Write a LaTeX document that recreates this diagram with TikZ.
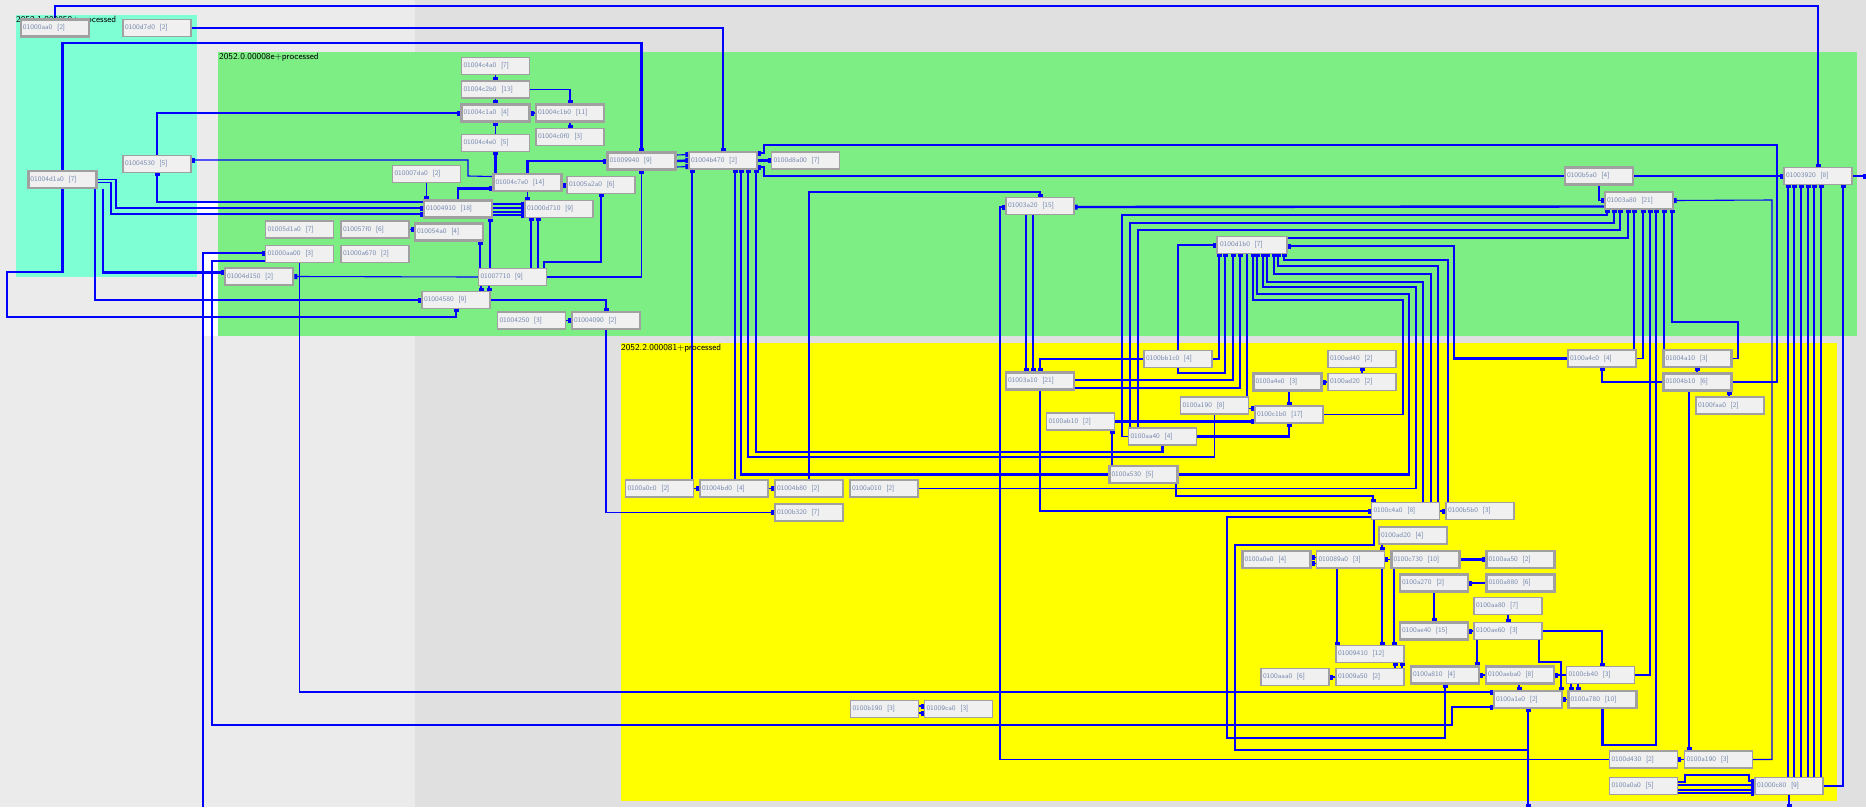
\documentclass[tikz,border=0pt]{standalone}
\usetikzlibrary{arrows.meta}
\definecolor{bgl}{RGB}{235,235,235}
\definecolor{bgd}{RGB}{224,224,224}
\definecolor{cyancl}{RGB}{127,255,212}
\definecolor{greencl}{RGB}{124,238,132}
\definecolor{yellowcl}{RGB}{255,255,0}
\definecolor{edgeb}{RGB}{0,0,255}
\definecolor{nfill}{RGB}{240,240,240}
\definecolor{nbord}{RGB}{160,160,160}
\definecolor{ntext}{RGB}{120,138,176}
\pgfdeclarelayer{bg}
\pgfdeclarelayer{edges}
\pgfsetlayers{bg,edges,main}
\tikzset{
  nb/.style={draw=nbord, fill=nfill, line width=1.3, minimum width=68, minimum height=17,
    inner sep=0pt, text width=64, align=left, font=\fontsize{7}{8}\selectfont\sffamily, text=ntext},
  nbk/.style={nb, line width=2.6},
  cl/.style={anchor=north west, inner sep=0pt, font=\fontsize{9}{10}\selectfont\sffamily},
  ln/.style={draw=edgeb, line width=1.1, -{Square[length=3pt 0,width=5pt 0]}},
  lk/.style={ln, line width=2.4},
}
\begin{document}
\begin{tikzpicture}[x=1pt,y=-1pt]
      \useasboundingbox (0,0) rectangle (1866,807);
      \begin{pgfonlayer}{bg}
      \fill[bgl] (0,0) rectangle (1866,807);
      \fill[bgd] (415,0) rectangle (1866,807);
      % clusters
      \fill[cyancl] (16,15) rectangle (197,277);
      \fill[greencl] (218,52) rectangle (1857,336);
      \fill[yellowcl] (621,343) rectangle (1837,801);
      \fill[white] (197,202) rectangle (218,215);
      \fill[white] (203,253) rectangle (218,336);
      \end{pgfonlayer}
      \node[cl] (lcyan) at (16,16) {2052.1.000050+processed};
      \node[cl] (lgreen) at (219,53) {2052.0.00008e+processed};
      \node[cl] (lyellow) at (621,344) {2052.2.000081+processed};
      % free ends
      \coordinate (offr) at (1866,176);
      \coordinate (offa) at (203,807);
      \coordinate (offb1) at (1789,807);
      \coordinate (offb2) at (1528,807);
      % cyan cluster
      \node[nbk] (n0aa0) at (55,28) {01000aa0\ \ [2]};
      \node[nb] (nd7d0) at (157,28) {0100d7d0\ \ [2]};
      \node[nbk] (nd1a0) at (62.5,179.5) {01004d1a0\ \ [7]};
      \node[nb] (n4530) at (157,164) {01004530\ \ [5]};
      % green cluster
      \node[nb] (n4c4a0) at (495.5,66) {01004c4a0\ \ [7]};
      \node[nb] (n4c2b0) at (495.5,89.5) {01004c2b0\ \ [13]};
      \node[nbk] (n4c1a0) at (495.5,113) {01004c1a0\ \ [4]};
      \node[nbk] (n4c1b0) at (570,113) {01004c1b0\ \ [11]};
      \node[nb] (n4c0f0) at (570,137) {01004c0f0\ \ [3]};
      \node[nb] (n4c4e0) at (495.5,143) {01004c4e0\ \ [5]};
      \node[nbk] (n9940) at (641.5,161) {01009940\ \ [9]};
      \node[nb] (n4b470) at (723,160.5) {01004b470\ \ [2]};
      \node[nb] (nd8a00) at (805.5,160.5) {0100d8a00\ \ [7]};
      \node[nb] (n07da0) at (426.5,174) {010007da0\ \ [2]};
      \node[nbk] (n4c7e0) at (527.5,182.5) {01004c7e0\ \ [14]};
      \node[nb] (n5a2a0) at (601,185) {01005a2a0\ \ [6]};
      \node[nbk] (n4910) at (458,209) {01004910\ \ [18]};
      \node[nb] (n0d710) at (559,209) {01000d710\ \ [9]};
      \node[nbk] (n54a0) at (449,232) {010054a0\ \ [4]};
      \node[nb] (n5d1a0) at (299.5,229.5) {01005d1a0\ \ [7]};
      \node[nb] (n57f0) at (375,229.5) {010057f0\ \ [6]};
      \node[nb] (naa00) at (299.5,254) {01000aa00\ \ [3]};
      \node[nb] (na670) at (375,254) {01000a670\ \ [2]};
      \node[nbk] (n4d150) at (259,276.5) {01004d150\ \ [2]};
      \node[nb] (n7710) at (512.5,277) {01007710\ \ [9]};
      \node[nb] (n4580) at (456,300) {01004580\ \ [9]};
      \node[nb] (n4250) at (531.5,320.5) {01004250\ \ [3]};
      \node[nbk] (n4090) at (606,320.5) {01004090\ \ [2]};
      \node[nb] (n3a20) at (1040,206) {01003a20\ \ [15]};
      \node[nb, minimum width=70] (nd1b0) at (1252,245) {0100d1b0\ \ [7]};
      \node[nbk] (nb5a0) at (1599,176) {0100b5a0\ \ [4]};
      \node[nb] (n3a80) at (1639,200.5) {01003a80\ \ [21]};
      \node[nb] (n3920) at (1818,176) {01003920\ \ [8]};
      % yellow cluster
      \node[nb] (na4c0) at (1602,358.5) {0100a4c0\ \ [4]};
      \node[nbk] (n4a10) at (1697.5,358.5) {01004a10\ \ [3]};
      \node[nbk] (n4b10) at (1697.5,382) {01004b10\ \ [6]};
      \node[nb] (nfaa0) at (1730,405.5) {0100faa0\ \ [2]};
      \node[nb] (nbb1c0) at (1178,359) {0100bb1c0\ \ [4]};
      \node[nbk] (n3a10) at (1040,381) {01003a10\ \ [21]};
      \node[nb] (nad40) at (1362,359) {0100ad40\ \ [2]};
      \node[nbk] (na4e0) at (1287.5,382) {0100a4e0\ \ [3]};
      \node[nb] (nad20) at (1362,382) {0100ad20\ \ [2]};
      \node[nb] (na190) at (1214.5,405.5) {0100a190\ \ [8]};
      \node[nb] (nc1b0) at (1289,414.5) {0100c1b0\ \ [17]};
      \node[nb] (nab10) at (1080.5,421.5) {0100ab10\ \ [2]};
      \node[nb] (naa40) at (1162.5,436.5) {0100aa40\ \ [4]};
      \node[nbk] (na530) at (1143.5,474.5) {0100a530\ \ [5]};
      \node[nb] (na0c0) at (659.5,488.5) {0100a0c0\ \ [2]};
      \node[nb] (n4bd0) at (734,488.5) {01004bd0\ \ [4]};
      \node[nb] (n4b80) at (809,488.5) {01004b80\ \ [2]};
      \node[nb] (na010) at (884,488.5) {0100a010\ \ [2]};
      \node[nb] (nb320) at (809,512.5) {0100b320\ \ [7]};
      \node[nb] (nc4a0) at (1405.5,511) {0100c4a0\ \ [8]};
      \node[nb] (nb5b0) at (1480,511) {0100b5b0\ \ [3]};
      \node[nb] (nad20b) at (1413,535.5) {0100ad20\ \ [4]};
      \node[nbk] (na0e0) at (1276.5,559.5) {0100a0e0\ \ [4]};
      \node[nb] (n89a0) at (1350.5,559.5) {010089a0\ \ [3]};
      \node[nbk] (nc730) at (1425.5,559.5) {0100c730\ \ [10]};
      \node[nbk] (naa50) at (1520.5,559.5) {0100aa50\ \ [2]};
      \node[nbk] (na270) at (1434,583) {0100a270\ \ [2]};
      \node[nbk] (na880) at (1520.5,583) {0100a880\ \ [6]};
      \node[nb] (naa80) at (1508,606) {0100aa80\ \ [7]};
      \node[nbk] (nae40) at (1434,631) {0100ae40\ \ [15]};
      \node[nb] (nae60) at (1508,631) {0100ae60\ \ [3]};
      \node[nb] (n9410) at (1370,654) {01009410\ \ [12]};
      \node[nb] (n9a50) at (1370,677) {01009a50\ \ [2]};
      \node[nb] (naaa0) at (1295,677) {0100aaa0\ \ [6]};
      \node[nbk] (na810) at (1445,675) {0100a810\ \ [4]};
      \node[nbk] (naeba0) at (1520,675) {0100aeba0\ \ [8]};
      \node[nb] (ncb40) at (1600.5,675) {0100cb40\ \ [3]};
      \node[nbk] (n1e0) at (1528,699.5) {0100a1e0\ \ [2]};
      \node[nbk] (na780) at (1602.5,699.5) {0100a780\ \ [10]};
      \node[nb] (nb190) at (884.5,709) {0100b190\ \ [3]};
      \node[nb] (n9ca0) at (958.5,709) {01009ca0\ \ [3]};
      \node[nb] (nd430) at (1643.5,759.5) {0100d430\ \ [2]};
      \node[nb] (na190b) at (1718.5,759.5) {0100a190\ \ [3]};
      \node[nb] (na0a0) at (1643.5,786) {0100a0a0\ \ [5]};
      \node[nb] (n0c80) at (1789,786) {01000c80\ \ [9]};
      \begin{pgfonlayer}{edges}
      % long lines across the top
      \draw[lk] (n0aa0.north) -- ++(0,-12) -| (n3920.north);
      \draw[lk] (nd7d0.east) -| (n4b470.north);
      \draw[lk] (nd1a0.north) -- ++(0,-127) -| (n9940.north);
      \draw[lk] (nd1a0.south) -- (62.5,272) -- (7,272) -- (7,317) -| (n4580.south);
      \draw[ln] (n4090.south) |- (nb320.west);
      \draw[lk] (103,0 |- nd1a0.south) |- ([yshift=4]n4d150.west);
      \draw[lk] (95,0 |- nd1a0.south) |- (n4580.west);
      \draw[lk] (n4530.north) |- (n4c1a0.west);
      \draw[ln] ([yshift=7]n4910.west) -| (n4530.south);
      \draw[ln] ([yshift=6]n4c7e0.west) -- (468,176) -- (468,160) -- ([yshift=4]n4530.east);
      \draw[ln] (nd1a0.east) -| (116,208) -- ([yshift=1]n4910.west);
      \draw[ln] ([yshift=-3]nd1a0.east) -| (111,214) -- ([yshift=-5]n4910.west);
      % green cluster, left part
      \draw[ln] (n07da0.south) -- (n07da0.south |- n4910.north);
      \draw[lk] (n4910.north) |- ([yshift=-6]n4c7e0.west);
      \draw[ln] (n4c4a0.south) -- (n4c2b0.north);
      \draw[ln] (n4c2b0.south) -- (n4c1a0.north);
      \draw[ln] (n4c2b0.east) -| (n4c1b0.north);
      \draw[ln] (n4c1b0.west) -- (n4c1a0.east);
      \draw[ln] (n4c1b0.south) -- (n4c0f0.north);
      \draw[ln] (n4c4e0.north) -- (n4c1a0.south);
      \draw[lk] (495.5,0 |- n4c7e0.north) -- (n4c4e0.south);
      \draw[lk] (n4c7e0.north) |- (n9940.west);
      \draw[lk] (n4c7e0.east |- n5a2a0.west) -- (n5a2a0.west);
      \draw[ln] (n4c7e0.south) -- (n4c7e0.south |- n0d710.north);
      \draw[ln] ([yshift=5]n4910.east) -- ([yshift=5]n0d710.west);
      \draw[lk] ([yshift=1]n4910.east) -- ([yshift=1]n0d710.west);
      \draw[lk] ([yshift=-3]n4910.east) -- ([yshift=-3]n0d710.west);
      \draw[ln] ([yshift=-6]n4910.east) -- ([yshift=-6]n0d710.west);
      \draw[ln] (490,0 |- n7710.north) -- (490,0 |- n4910.south);
      \draw[ln] (480,0 |- n7710.north) -- (480,0 |- n54a0.south);
      \draw[ln] (n57f0.east) -- (n57f0.east -| n54a0.west);
      \draw[ln] (531,0 |- n7710.north) -- (531,0 |- n0d710.south);
      \draw[lk] (538,0 |- n7710.north) -- (538,0 |- n0d710.south);
      \draw[lk] (544,0 |- n7710.north) |- (601,262) -- (n5a2a0.south);
      \draw[ln] (n7710.east) -| (n9940.south);
      \draw[ln] (481,0 |- n7710.south) -- (481,0 |- n4580.north);
      \draw[ln] (489,0 |- n7710.south) -- (489,0 |- n4580.north);
      \draw[ln] (n4580.east) -| (n4090.north);
      \draw[ln] (n4250.east) -- (n4090.west);
      \draw[ln] (n7710.west) -- (n4d150.east);
      \draw[lk] (offa) |- ([yshift=1]naa00.west);
      \draw[lk] ([yshift=-7]naa00.west) -| (212,725) -| (1452,707) -- ([yshift=-7.5]n1e0.west);
      \draw[ln] (naa00.south) |- ([yshift=7.5]n1e0.west);
      % green cluster, middle part
      \draw[ln] ([yshift=6]n9940.east) -- ([yshift=6]n4b470.west);
      \draw[lk] (n9940.east) -- (n4b470.west);
      \draw[ln] ([yshift=-6]n9940.east) -- ([yshift=-6]n4b470.west);
      \draw[lk] (n4b470.east) -- (nd8a00.west);
      \draw[lk] (n4b10.east) -| (1777,145) -| (764,153) -- ([yshift=7.5]n4b470.east);
      \draw[lk] (nb5a0.west) -| (764,167) -- ([yshift=-6.5]n4b470.east);
      \draw[ln] (nb5a0.east) -- (n3920.west);
      \draw[lk] ([yshift=-6]n3a80.west) -- ([yshift=-1]n3a20.east);
      \draw[ln] (nd430.west) -| (1000,207) -- ([yshift=-1]n3a20.west);
      \draw[ln] (n4b80.north) -- (809,192) -| (n3a20.north);
      \draw[ln] (1026,0 |- n3a20.south) -- (1026,0 |- n3a10.north);
      \draw[lk] (1033,0 |- n3a20.south) -- (1033,0 |- n3a10.north);
      \draw[lk] (692,0 |- na0c0.north) -- (692,0 |- n4b470.south);
      \draw[ln] (735,0 |- n4bd0.north) -- (735,0 |- n4b470.south);
      \draw[lk] (na530.west) -| (741,0 |- n4b470.south);
      \draw[ln] (na190.south) |- (748,457) -- (748,0 |- n4b470.south);
      \draw[lk] (naa40.south) |- (756,452) -- (756,0 |- n4b470.south);
      % lines into 01003a80
      \draw[ln] ([yshift=7]nd1b0.east) -| (1628,0 |- n3a80.south);
      \draw[ln] (naa40.west) -| (1122,215) -| (1607,0 |- n3a80.south);
      \draw[lk] (1130,0 |- naa40.north) |- (1614,223) -- (1614,0 |- n3a80.south);
      \draw[lk] (1138,0 |- naa40.north) |- (1620,230) -- (1620,0 |- n3a80.south);
      \draw[ln] (1634,0 |- na4c0.north) -- (1634,0 |- n3a80.south);
      \draw[ln] (na4c0.east) -| (1643,0 |- n3a80.south);
      \draw[ln] (ncb40.east) -| (1650,0 |- n3a80.south);
      \draw[lk] (1664,0 |- n4a10.north) -- (1664,0 |- n3a80.south);
      \draw[ln] (n4a10.east) -| (1738,322) -| (1672,0 |- n3a80.south);
      \draw[ln] (na190b.east) -| (1772,200) -- (n3a80.east);
      \draw[ln] (nb5a0.south) |- (n3a80.west);
      \draw[lk] (na780.south) |- (1656,745) -- (1656,0 |- n3a80.south);
      % lines into 01003920
      \draw[ln] (1788,0 |- n0c80.north) -- (1788,0 |- n3920.south);
      \draw[lk] (1794,0 |- n0c80.north) -- (1794,0 |- n3920.south);
      \draw[ln] (1801,0 |- n0c80.north) -- (1801,0 |- n3920.south);
      \draw[ln] (1808,0 |- n0c80.north) -- (1808,0 |- n3920.south);
      \draw[lk] (1814,0 |- n0c80.north) -- (1814,0 |- n3920.south);
      \draw[lk] (1821,0 |- n0c80.north) -- (1821,0 |- n3920.south);
      \draw[lk] (n0c80.east) -| (1843,0 |- n3920.south);
      \draw[lk] (n3920.east) -- (offr);
      \draw[ln] (1789,0 |- n0c80.south) -- (offb1);
      % bottom right
      \draw[ln] ([yshift=4]na0a0.east) -| (1685,775) -| (1749,781) -- ([yshift=5]n0c80.west);
      \draw[lk] ([yshift=1]na0a0.east) -- ([yshift=1]n0c80.west);
      \draw[ln] ([yshift=-4]na0a0.east) -- ([yshift=-4]n0c80.west);
      \draw[ln] ([yshift=-7]na0a0.east) -- ([yshift=-7]n0c80.west);
      \draw[ln] (na190b.west) -- (nd430.east);
      \draw[ln] (1689,0 |- n4b10.south) -- (1689,0 |- na190b.north);
      \draw[ln] (1697,0 |- n4b10.north) -- (1697,0 |- n4a10.south);
      \draw[ln] (n4b10.west) -| (na4c0.south);
      \draw[ln] (1729,0 |- nfaa0.north) -- (1729,0 |- n4b10.south);
      % lines into 0100d1b0
      \draw[ln] (nc1b0.east) -| (1403,300) -| (1253,0 |- nd1b0.south);
      \draw[lk] (na530.east) -| (1409,294) -| (1257,0 |- nd1b0.south);
      \draw[ln] (na010.east) -| (1416,287) -| (1263,0 |- nd1b0.south);
      \draw[lk] (1423,0 |- nc4a0.north) |- (1267,282) -- (1267,0 |- nd1b0.south);
      \draw[ln] (1431,0 |- nc4a0.north) |- (1274,274) -- (1274,0 |- nd1b0.south);
      \draw[lk] (1438,0 |- nc4a0.north) |- (1278,266) -- (1278,0 |- nd1b0.south);
      \draw[ln] (1448,0 |- nb5b0.north) |- (1284,260) -- (1284,0 |- nd1b0.south);
      \draw[lk] (na4c0.west) -| (1454,246) -- ([yshift=-1]nd1b0.east);
      \draw[ln] (nbb1c0.east) -| (1219,0 |- nd1b0.south);
      \draw[ln] (nbb1c0.south) |- (1225,373) -- (1225,0 |- nd1b0.south);
      \draw[ln] (nbb1c0.north) |- (nd1b0.west);
      \draw[lk] ([yshift=1]n3a10.east) -| (1233,0 |- nd1b0.south);
      \draw[ln] ([yshift=-7]n3a10.east) -| (1240,0 |- nd1b0.south);
      \draw[ln] (1247,0 |- nd1b0.south) |- ([yshift=6]nc1b0.west);
      % yellow cluster, middle
      \draw[ln] (nbb1c0.west) -| (n3a10.north);
      \draw[lk] (n3a10.south) |- (nc4a0.west);
      \draw[ln] (nc4a0.east) -- (nb5b0.west);
      \draw[ln] (1176,0 |- na530.south) |- (1373,496) -- (1373,0 |- nc4a0.north);
      \draw[lk] (1112,0 |- na530.north) -- (1112,0 |- nab10.south);
      \draw[lk] (nab10.east) -- (nab10.east -| nc1b0.west);
      \draw[lk] (naa40.east) -| (nc1b0.south);
      \draw[lk] (1289,0 |- na4e0.south) -- (nc1b0.north);
      \draw[ln] (nad20.west) -- (na4e0.east);
      \draw[ln] (nad20.north) -- (nad40.south);
      \draw[ln] (na0c0.east) -- (n4bd0.west);
      \draw[ln] (n4bd0.east) -- (n4b80.west);
      \draw[ln] ([yshift=3]nb190.east) -- ([yshift=3]n9ca0.west);
      \draw[ln] ([yshift=-4]nb190.east) -- ([yshift=-4]n9ca0.west);
      % yellow cluster, lower right
      \draw[lk] ([yshift=-6]nc4a0.west) -| (1227,738) -| (na810.south);
      \draw[ln] (1374,0 |- nc4a0.south) |- (1235,545) -- (1235,750) -| (n1e0.south);
      \draw[ln] (nc730.west) -- (n89a0.east);
      \draw[ln] ([yshift=2]n89a0.west) -- ([yshift=2]na0e0.east);
      \draw[ln] ([yshift=-4]n89a0.west) -- ([yshift=-4]na0e0.east);
      \draw[ln] (1382,0 |- nad20b.south) -- (1382,0 |- n89a0.north);
      \draw[ln] (1337,0 |- n89a0.south) -- (1337,0 |- n9410.north);
      \draw[ln] (1382,0 |- n89a0.south) -- (1382,0 |- n9410.north);
      \draw[lk] (1394,0 |- nc730.south) -- (1394,0 |- n9410.north);
      \draw[ln] (1395,0 |- n9a50.north) -- (1395,0 |- n9410.south);
      \draw[ln] (1402,0 |- n9a50.north) -- (1402,0 |- n9410.south);
      \draw[ln] (n9a50.west) -- (naaa0.east);
      \draw[lk] (nc730.east) -- (naa50.west);
      \draw[lk] (na880.west) -- (na270.east);
      \draw[ln] (na270.south) -- (nae40.north);
      \draw[ln] (nae60.west) -- (nae40.east);
      \draw[ln] (1477,0 |- nae60.south) -- (1477,0 |- na810.north);
      \draw[ln] (naa80.south) -- (nae60.north);
      \draw[ln] (nae60.east) -| (1602,0 |- ncb40.north);
      \draw[lk] (1539,0 |- nae60.south) |- (1561,662) -- (1561,0 |- n1e0.north);
      \draw[ln] (1519,0 |- naeba0.south) -- (1519,0 |- n1e0.north);
      \draw[ln] (ncb40.west) -- (naeba0.east);
      \draw[ln] (naeba0.west) -- (na810.east);
      \draw[ln] (1571,0 |- ncb40.south) -- (1571,0 |- na780.north);
      \draw[ln] (1578,0 |- ncb40.south) -- (1578,0 |- na780.north);
      \draw[ln] (na780.west) -- (n1e0.east);
      \draw[lk] (n1e0.south) -- (offb2);
      \end{pgfonlayer}
\end{tikzpicture}
\end{document}
